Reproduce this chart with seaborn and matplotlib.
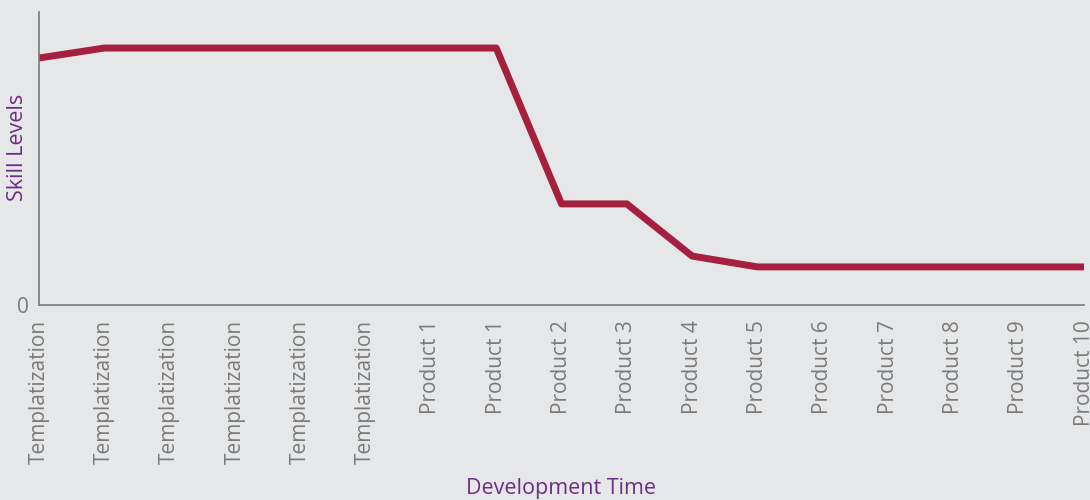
import numpy as np
import matplotlib
matplotlib.use("Agg")
import matplotlib.pyplot as plt
import seaborn as sns
import pandas as pd

# chart data
stages = ["Templatization"] * 6 + ["Product 1", "Product 1"] + [f"Product {i}" for i in range(2, 11)]
skill = [84.3, 87.7, 87.7, 87.7, 87.7, 87.7, 87.7, 87.7,
         34.5, 34.5, 16.7, 13.0, 13.0, 13.0, 13.0, 13.0, 13.0]

bg = "#e6e7e9"
line_color = "#a51f3f"
label_color = "#6b2d86"
axis_color = "#7a7a7a"

sns.set_style("white")
plt.rcParams["font.family"] = ["Open Sans", "DejaVu Sans"]

df = pd.DataFrame({"pos": np.arange(len(stages)), "skill": skill})

fig = plt.figure(figsize=(10.9, 5), dpi=100, facecolor=bg)
ax = fig.add_axes([0.0358, 0.39, 0.9587, 0.586])
ax.set_facecolor(bg)

sns.lineplot(data=df, x="pos", y="skill", ax=ax, color=line_color,
             linewidth=5, solid_capstyle="round", solid_joinstyle="round")

ax.set_xlim(0, len(stages) - 1)
ax.set_ylim(0, 100)
ax.set_xticks(df["pos"])
ax.set_xticklabels(stages, rotation=90, color=axis_color, fontsize=15)
ax.set_yticks([0])
ax.set_yticklabels(["0"], color=axis_color, fontsize=15)

for s in ["top", "right"]:
    ax.spines[s].set_visible(False)
for s in ["left", "bottom"]:
    ax.spines[s].set_color(axis_color)
    ax.spines[s].set_linewidth(1.2)

ax.tick_params(axis="both", length=6, width=1.2, color=axis_color, direction="out", pad=5)
ax.tick_params(axis="y", pad=1)

# axis titles placed in figure coordinates
ax.set_xlabel("Development Time", color=label_color, fontsize=15.5)
ax.set_ylabel("Skill Levels", color=label_color, fontsize=15.5)
ax.xaxis.set_label_coords(0.5147, 0.044, transform=fig.transFigure)
ax.yaxis.set_label_coords(0.026, 0.706, transform=fig.transFigure)

fig.savefig("out.png", dpi=100, facecolor=bg)
